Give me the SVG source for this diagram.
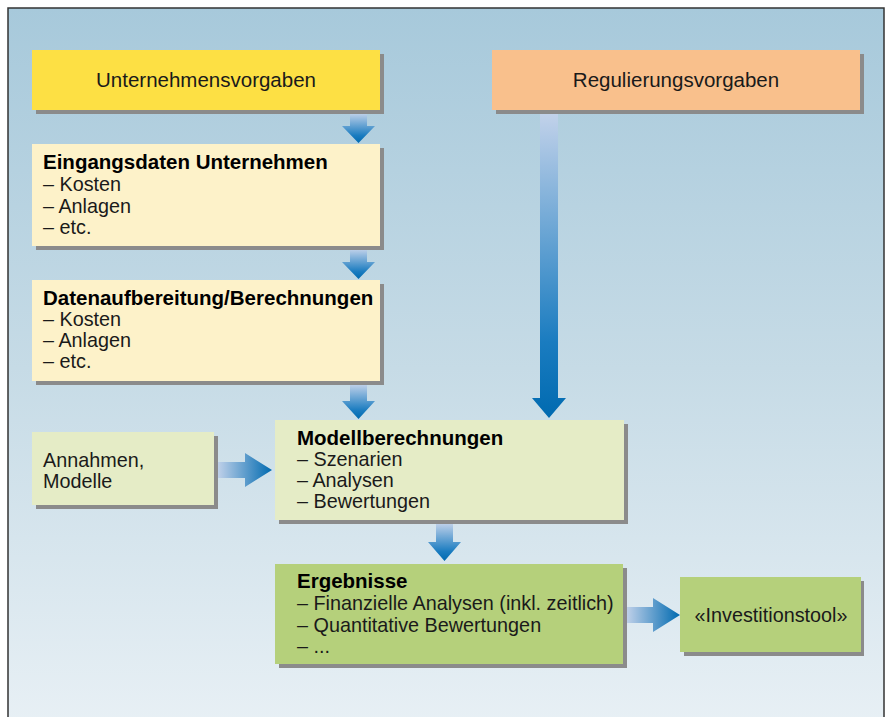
<svg xmlns="http://www.w3.org/2000/svg" width="888" height="717" viewBox="0 0 888 717">
<defs>
<linearGradient id="bg" x1="0" y1="0" x2="0" y2="1">
<stop offset="0" stop-color="#a7c9db"/>
<stop offset="0.5" stop-color="#c6dbe6"/>
<stop offset="1" stop-color="#e8f0f5"/>
</linearGradient>
<linearGradient id="gv" x1="0" y1="0" x2="0" y2="1">
<stop offset="0" stop-color="#c2d2ea"/>
<stop offset="0.75" stop-color="#1a7cc0"/>
<stop offset="1" stop-color="#006ab0"/>
</linearGradient>
<linearGradient id="gh" x1="0" y1="0" x2="1" y2="0">
<stop offset="0" stop-color="#c2d2ea"/>
<stop offset="1" stop-color="#006ab0"/>
</linearGradient>
<style>
.sh{fill:#8b8b8b}
.t{font-family:"Liberation Sans",Arial,sans-serif;font-size:19.8px;fill:#1a1a1a}
.b{font-weight:bold;fill:#000;font-size:20.5px}
.h{font-size:20.5px}
.c{text-anchor:middle}
</style>
</defs>
<rect x="8" y="8" width="876" height="720" fill="url(#bg)" stroke="#333" stroke-width="1.5"/>

<g id="connectors">
<path d="M350,113 H367 V126 H375 L358.5,143 L342,126 H350 Z" fill="url(#gv)"/>
<path d="M350,249 H367 V262 H375 L358.5,279 L342,262 H350 Z" fill="url(#gv)"/>
<path d="M350,384 H367 V401 H375 L358.5,419 L342,401 H350 Z" fill="url(#gv)"/>
<path d="M540,113 H558 V398 H566 L549,418 L532,398 H540 Z" fill="url(#gv)"/>
<path d="M436,523 H453 V542 H461 L444.5,561 L428,542 H436 Z" fill="url(#gv)"/>
<path d="M217,462 H245 V453 L272,470 L245,487 V478 H217 Z" fill="url(#gh)"/>
<path d="M626,607 H653 V598 L680,615 L653,632 V623 H626 Z" fill="url(#gh)"/>
</g>

<g id="unternehmensvorgaben">
<rect class="sh" x="36" y="54" width="348" height="60"/>
<rect x="32" y="50" width="348" height="60" fill="#fde044"/>
<text class="t h c" x="206" y="87">Unternehmensvorgaben</text>
</g>

<g id="regulierungsvorgaben">
<rect class="sh" x="496" y="54" width="368" height="60"/>
<rect x="492" y="50" width="368" height="60" fill="#f9c08c"/>
<text class="t h c" x="676" y="87">Regulierungsvorgaben</text>
</g>

<g id="eingangsdaten">
<rect class="sh" x="36" y="148" width="348" height="102"/>
<rect x="32" y="144" width="348" height="102" fill="#fdf2c9"/>
<text class="t" x="43" y="169"><tspan class="b">Eingangsdaten Unternehmen</tspan><tspan x="43" y="191">– Kosten</tspan><tspan x="43" y="213">– Anlagen</tspan><tspan x="43" y="234">– etc.</tspan></text>
</g>

<g id="datenaufbereitung">
<rect class="sh" x="36" y="284" width="348" height="101"/>
<rect x="32" y="280" width="348" height="101" fill="#fdf2c9"/>
<text class="t" x="43" y="305"><tspan class="b">Datenaufbereitung/Berechnungen</tspan><tspan x="43" y="326">– Kosten</tspan><tspan x="43" y="347">– Anlagen</tspan><tspan x="43" y="368">– etc.</tspan></text>
</g>

<g id="annahmen">
<rect class="sh" x="36" y="436" width="182" height="73"/>
<rect x="32" y="432" width="182" height="73" fill="#e5ecc6"/>
<text class="t" x="43" y="467">Annahmen,<tspan x="43" y="488">Modelle</tspan></text>
</g>

<g id="modellberechnungen">
<rect class="sh" x="279" y="424" width="349" height="100"/>
<rect x="275" y="420" width="349" height="100" fill="#e5ecc6"/>
<text class="t" x="297" y="445"><tspan class="b">Modellberechnungen</tspan><tspan x="297" y="466">– Szenarien</tspan><tspan x="297" y="487">– Analysen</tspan><tspan x="297" y="508">– Bewertungen</tspan></text>
</g>

<g id="ergebnisse">
<rect class="sh" x="279" y="568" width="348" height="100"/>
<rect x="275" y="564" width="348" height="100" fill="#b5d07b"/>
<text class="t" x="297" y="588"><tspan class="b">Ergebnisse</tspan><tspan x="297" y="610">– Finanzielle Analysen (inkl. zeitlich)</tspan><tspan x="297" y="632">– Quantitative Bewertungen</tspan><tspan x="297" y="653">– ...</tspan></text>
</g>

<g id="investitionstool">
<rect class="sh" x="684" y="581" width="180" height="75"/>
<rect x="680" y="577" width="181" height="75" fill="#b5d07b"/>
<text class="t c" x="771" y="622">«Investitionstool»</text>
</g>
</svg>
